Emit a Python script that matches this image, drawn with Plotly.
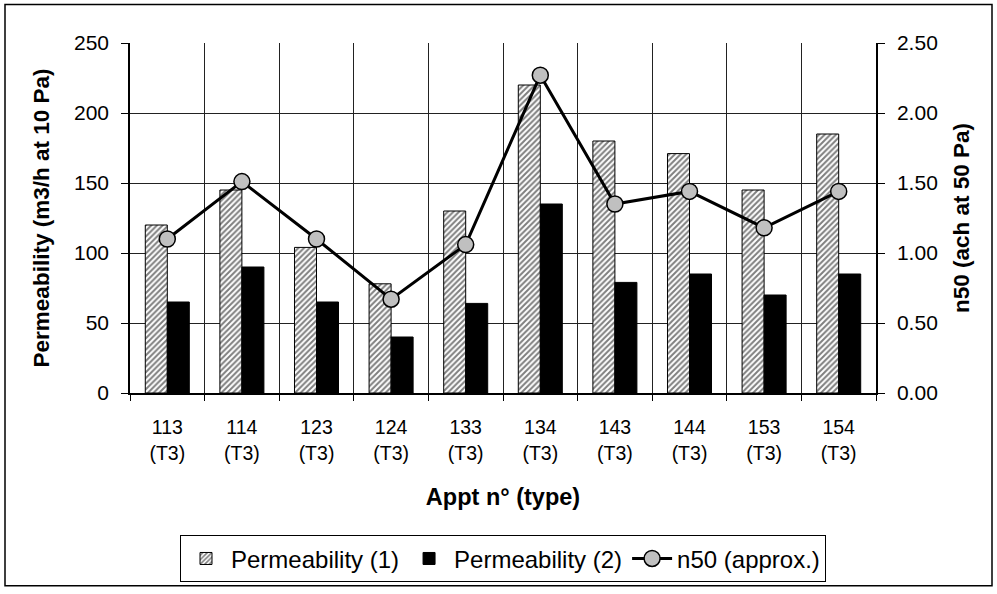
import plotly.graph_objects as go

categories = ["113<br>(T3)", "114<br>(T3)", "123<br>(T3)", "124<br>(T3)", "133<br>(T3)",
              "134<br>(T3)", "143<br>(T3)", "144<br>(T3)", "153<br>(T3)", "154<br>(T3)"]
perm1 = [120, 145, 104, 78, 130, 220, 180, 171, 145, 185]
perm2 = [65, 90, 65, 40, 64, 135, 79, 85, 70, 85]
n50 = [1.10, 1.51, 1.10, 0.67, 1.06, 2.27, 1.35, 1.44, 1.18, 1.44]

FONT = "Arial, Liberation Sans, sans-serif"
W, H = 997, 594
L, R, T, B = 130, 121, 43, 197
pw, ph = W - L - R, H - T - B

fig = go.Figure()
fig.add_trace(go.Bar(
    x=categories, y=perm1, name="Permeability (1)",
    marker=dict(color="white",
                pattern=dict(shape="/", fgcolor="black", bgcolor="white", size=4, solidity=0.5),
                line=dict(color="black", width=1)),
))
fig.add_trace(go.Bar(
    x=categories, y=perm2, name="Permeability (2)",
    marker=dict(color="black", line=dict(color="black", width=1)),
))
fig.add_trace(go.Scatter(
    x=categories, y=n50, name="n50 (approx.)", yaxis="y2",
    mode="lines+markers",
    line=dict(color="black", width=3),
    marker=dict(symbol="circle", size=16, color="#c0c0c0", line=dict(color="black", width=1.5)),
))

def px2paper_x(px):
    return (px - L) / pw

def px2paper_y(py):
    return (H - B - py) / ph

fig.update_layout(
    width=W, height=H,
    margin=dict(l=L, r=R, t=T, b=B),
    paper_bgcolor="white", plot_bgcolor="white",
    font=dict(family=FONT, size=20, color="black"),
    barmode="group", bargap=0.41, bargroupgap=0,
    showlegend=True,
    legend=dict(orientation="h", x=0.5, xanchor="center",
                y=px2paper_y(541), yanchor="top",
                bordercolor="black", borderwidth=1,
                font=dict(family=FONT, size=24, color="black"),
                traceorder="normal", itemwidth=40,
                tracegroupgap=0),
    xaxis=dict(
        type="category", tickson="boundaries", range=[-0.5, 9.5], autorange=False,
        showgrid=True, gridcolor="#222222", gridwidth=1,
        showline=True, linecolor="black", linewidth=1.5,
        ticks="outside", ticklen=6, tickcolor="black",
        ticklabelstandoff=16,
        tickfont=dict(family=FONT, size=19.5),
        title=dict(text="<b>Appt n° (type)</b>", font=dict(family=FONT, size=23.5), standoff=26),
    ),
    yaxis=dict(
        range=[0, 250], dtick=50, tick0=0, autorange=False,
        showgrid=True, gridcolor="#222222", gridwidth=1,
        showline=True, linecolor="black", linewidth=1.5,
        ticks="outside", ticklen=7, tickcolor="black",
        ticklabelstandoff=8,
        tickfont=dict(family=FONT, size=21),
        zeroline=False,
        title=dict(text="<b>Permeability (m3/h at 10 Pa)</b>", font=dict(family=FONT, size=22.5), standoff=18),
    ),
    yaxis2=dict(
        range=[0, 2.5], dtick=0.5, tick0=0, tickformat=".2f", autorange=False,
        overlaying="y", side="right",
        showgrid=False, zeroline=False,
        showline=True, linecolor="black", linewidth=1.5,
        ticks="outside", ticklen=7, tickcolor="black",
        ticklabelstandoff=8,
        tickfont=dict(family=FONT, size=21),
        title=dict(text="<b>n50 (ach at 50 Pa)</b>", font=dict(family=FONT, size=22.5), standoff=16),
    ),
    shapes=[dict(type="rect", xref="paper", yref="paper",
                 x0=px2paper_x(5), x1=px2paper_x(992),
                 y0=px2paper_y(592), y1=px2paper_y(4),
                 line=dict(color="black", width=1.5), fillcolor="rgba(0,0,0,0)", layer="below")],
)

fig.write_html("out.html")
